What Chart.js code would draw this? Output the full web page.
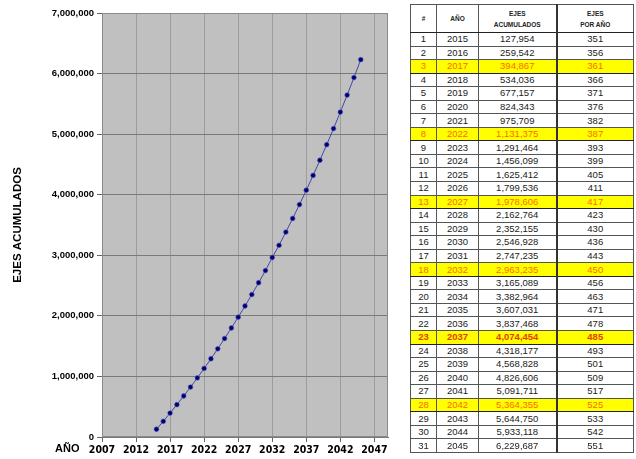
<!DOCTYPE html>
<html>
<head>
<meta charset="utf-8">
<script src="https://cdn.jsdelivr.net/npm/chart.js@4/dist/chart.umd.min.js"></script>
<style>
  html, body { margin: 0; padding: 0; background: #fff; }
  body { width: 636px; height: 459px; position: relative; overflow: hidden; font-family: "Liberation Sans", Arial, sans-serif; }
  #chart { position: absolute; left: 0; top: 0; }
  #anio { position: absolute; left: 55px; top: 442px; font: bold 11px "Liberation Sans", Arial, sans-serif; color: #000; }
  #tabla { position: absolute; left: 410px; top: 4px; border-collapse: collapse; table-layout: fixed; width: 223px; }
  #tabla td, #tabla th { padding: 0; text-align: center; border: 1px solid #555; color: #222; overflow: hidden; white-space: nowrap; }
  #tabla thead th { height: 27px; font: bold 6.5px "Liberation Sans", Arial, sans-serif; line-height: 11px; color: #222; border-bottom: 1px solid #222; }
  #tabla tbody td { height: 12.55px; font: 9.5px "Liberation Sans", Arial, sans-serif; line-height: 12px; }
  #tabla tbody tr.hl td { background: #ffff00; color: #ff6a00; border-top: 1px solid #222; border-bottom: 1px solid #222; }
  #tabla tbody tr.hlb td { background: #ffff00; color: #e83c00; font-weight: bold; border-top: 1px solid #222; border-bottom: 1px solid #222; }
  #tabla td.c3, #tabla th.c3 { border-right: 2px solid #333; }
</style>
</head>
<body>
<canvas id="chart" width="400" height="459"></canvas>
<div id="anio">AÑO</div>
<table id="tabla">
  <colgroup><col style="width:26px"><col style="width:42px"><col style="width:78px"><col style="width:77px"></colgroup>
  <thead>
    <tr><th>#</th><th>AÑO</th><th class="c3">EJES<br>ACUMULADOS</th><th>EJES<br>POR AÑO</th></tr>
  </thead>
  <tbody id="cuerpo"></tbody>
</table>
<script>
// Años de proyección
const anios = [2015, 2016, 2017, 2018, 2019, 2020, 2021, 2022, 2023, 2024, 2025,
  2026, 2027, 2028, 2029, 2030, 2031, 2032, 2033, 2034, 2035, 2036, 2037, 2038,
  2039, 2040, 2041, 2042, 2043, 2044, 2045];

// Ejes equivalentes acumulados por año
const ejesAcumulados = [127954, 259542, 394867, 534036, 677157, 824343, 975709,
  1131375, 1291464, 1456099, 1625412, 1799536, 1978606, 2162764, 2352155,
  2546928, 2747235, 2963235, 3165089, 3382964, 3607031, 3837468, 4074454,
  4318177, 4568828, 4826606, 5091711, 5364355, 5644750, 5933118, 6229687];

// Ejes por año (columna de la tabla)
const ejesPorAnio = [351, 356, 361, 366, 371, 376, 382, 387, 393, 399, 405, 411,
  417, 423, 430, 436, 443, 450, 456, 463, 471, 478, 485, 493, 501, 509, 517,
  525, 533, 542, 551];

// Filas resaltadas en la tabla (cada 5 años) y la fila en negrita
const filasResaltadas = [3, 8, 13, 18, 28];
const filaNegrita = 23;

// Marcas del eje X
const ticksX = [2007, 2012, 2017, 2022, 2027, 2032, 2037, 2042, 2047];

// ---- Tabla ----
const cuerpo = document.getElementById('cuerpo');
const fmt = n => n.toLocaleString('en-US');
anios.forEach((a, i) => {
  const n = i + 1;
  const tr = document.createElement('tr');
  if (n === filaNegrita) tr.className = 'hlb';
  else if (filasResaltadas.includes(n)) tr.className = 'hl';
  tr.innerHTML = `<td>${n}</td><td>${a}</td><td class="c3">${fmt(ejesAcumulados[i])}</td><td>${ejesPorAnio[i]}</td>`;
  cuerpo.appendChild(tr);
});

// ---- Gráfico ----
const fondoArea = {
  id: 'fondoArea',
  beforeDraw(chart) {
    const { ctx, chartArea: a } = chart;
    ctx.save();
    ctx.fillStyle = '#c0c0c0';
    ctx.fillRect(a.left, a.top, a.right - a.left, a.bottom - a.top);
    ctx.restore();
  },
  beforeDatasetsDraw(chart) {
    const { ctx, chartArea: a } = chart;
    ctx.save();
    ctx.strokeStyle = '#8a8a8a';
    ctx.lineWidth = 1;
    ctx.strokeRect(a.left + 0.5, a.top + 0.5, a.right - a.left - 1, a.bottom - a.top - 1);
    ctx.restore();
  }
};

new Chart(document.getElementById('chart'), {
  type: 'scatter',
  data: {
    datasets: [{
      data: anios.map((a, i) => ({ x: a, y: ejesAcumulados[i] })),
      showLine: true,
      borderColor: '#4646a8',
      borderWidth: 1,
      pointRadius: 2.4,
      pointBackgroundColor: '#000070',
      pointBorderColor: 'rgba(90,90,200,0.55)',
      pointBorderWidth: 1,
      tension: 0
    }]
  },
  options: {
    responsive: false,
    animation: false,
    layout: { padding: { top: 13, right: 12, left: 0, bottom: 0 } },
    plugins: { legend: { display: false }, tooltip: { enabled: false } },
    scales: {
      x: {
        type: 'linear',
        min: 2007,
        max: 2049,
        afterBuildTicks: s => { s.ticks = ticksX.map(v => ({ value: v })); },
        afterFit: s => { s.height = 22; },
        grid: { color: '#9c9c9c', lineWidth: 1, tickLength: 5, tickColor: '#666' },
        border: { color: '#777' },
        ticks: {
          padding: 2,
          color: '#000',
          maxRotation: 0,
          font: { family: '"Liberation Sans Narrow", "DejaVu Sans Condensed", "Liberation Sans", sans-serif', weight: 'bold', size: 10.5 },
          callback: v => String(v)
        }
      },
      y: {
        min: 0,
        max: 7000000,
        afterFit: s => { s.width = 102; },
        grid: { color: '#7a7a7a', lineWidth: 1, tickLength: 5, tickColor: '#666' },
        border: { color: '#777' },
        ticks: {
          stepSize: 1000000,
          padding: 3,
          color: '#000',
          font: { family: '"Liberation Sans", Arial, sans-serif', weight: 'bold', size: 9.5 },
          callback: v => v.toLocaleString('en-US')
        },
        title: {
          display: true,
          text: 'EJES ACUMULADOS',
          color: '#000',
          padding: { top: 11, bottom: 0 },
          font: { family: '"Liberation Sans", Arial, sans-serif', weight: 'bold', size: 11.5 }
        }
      }
    }
  },
  plugins: [fondoArea]
});
</script>
</body>
</html>
